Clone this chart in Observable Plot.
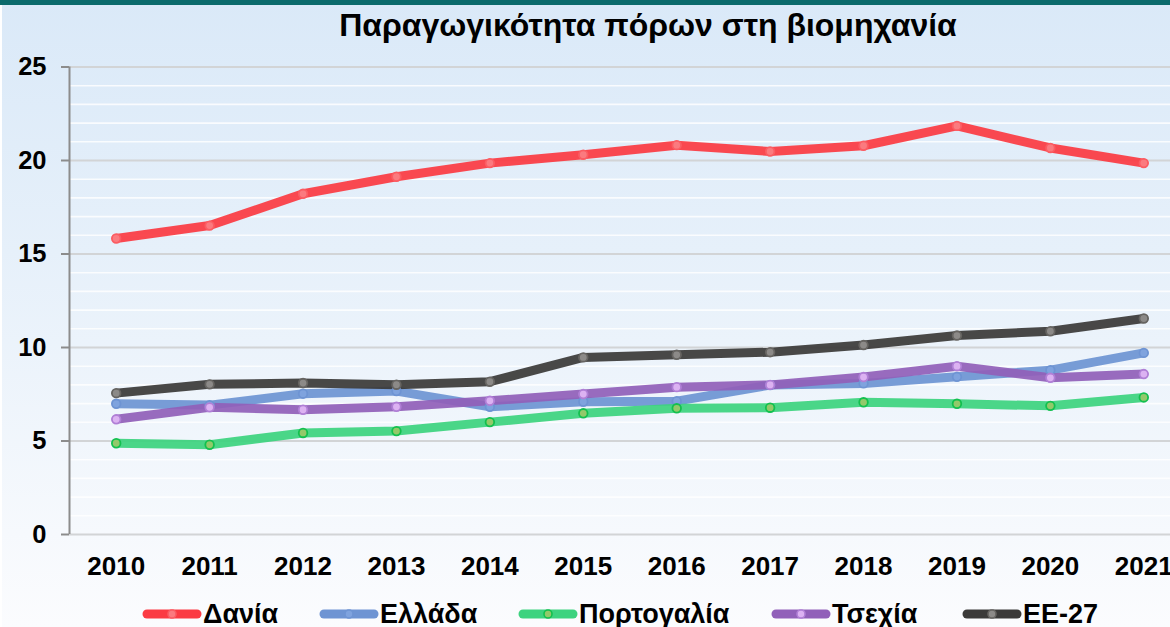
<!DOCTYPE html>
<html>
<head>
<meta charset="utf-8">
<script src="https://cdn.jsdelivr.net/npm/d3@7"></script>
<script src="https://cdn.jsdelivr.net/npm/@observablehq/plot@0.6"></script>
<style>
  html, body { margin: 0; padding: 0; }
  body { width: 1170px; height: 627px; overflow: hidden; background: #fff; font-family: "Liberation Sans", Arial, sans-serif; position: relative; }
  #wrap { position: absolute; left: 2px; top: 0; width: 1168px; height: 627px;
          background: linear-gradient(to bottom, #dae9f8 0%, #e6f0fa 40%, #f6f9fd 85%, #fbfcfe 100%); }
  #topbar { position: absolute; left: 0; top: 0; width: 1170px; height: 5px; background: #0b6a6c; }
  #title { position: absolute; left: 0; width: 1296px; top: 7px; text-align: center; font-weight: bold; font-size: 32px; line-height: normal; color: #000; white-space: nowrap; }
  #chart { position: absolute; left: 0; top: 0; }
  #legend { position: absolute; left: 0; top: 0; width: 1170px; height: 627px; pointer-events: none; }
  .sw { position: absolute; top: 606px; }
  .lt { position: absolute; top: 601px; font-weight: bold; font-size: 27px; line-height: 27px; color: #000; white-space: nowrap; }
</style>
</head>
<body>
<div id="wrap"></div>
<div id="topbar"></div>
<div id="chart"></div>
<div id="title">Παραγωγικότητα πόρων στη βιομηχανία</div>
<div id="legend"></div>
<script>
const years = [2010, 2011, 2012, 2013, 2014, 2015, 2016, 2017, 2018, 2019, 2020, 2021];
const seriesNames = ["Δανία", "Ελλάδα", "Πορτογαλία", "Τσεχία", "ΕΕ-27"];
const dania      = [15.83, 16.52, 18.22, 19.13, 19.86, 20.31, 20.82, 20.48, 20.79, 21.85, 20.67, 19.86];
const ellada     = [6.99, 6.92, 7.53, 7.67, 6.83, 7.10, 7.13, 7.99, 8.08, 8.43, 8.79, 9.71];
const portogalia = [4.88, 4.80, 5.43, 5.53, 6.01, 6.48, 6.75, 6.78, 7.07, 6.99, 6.88, 7.33];
const tsexia     = [6.16, 6.80, 6.67, 6.83, 7.15, 7.51, 7.88, 8.00, 8.42, 9.00, 8.38, 8.58];
const ee27       = [7.56, 8.03, 8.10, 8.01, 8.17, 9.47, 9.61, 9.75, 10.13, 10.64, 10.87, 11.55];
const yTicks = [0, 5, 10, 15, 20, 25];
const yMinor = [1,2,3,4,6,7,8,9,11,12,13,14,16,17,18,19,21,22,23,24];

const lineColors   = ["#fb3b43", "#6e94d3", "#3dd37f", "#9160b9", "#3b3a39"];
const markerFill   = ["#fb7a7f", "#7fa3de", "#93c96a", "#dcb2f2", "#8c8a88"];
const markerStroke = ["#fb5c62", "#6e94d3", "#13c04f", "#b07fd6", "#666461"];
const legendLeft   = [142, 319, 518, 771, 962];

const allValues = [dania, ellada, portogalia, tsexia, ee27];
const data = [];
seriesNames.forEach((name, i) => {
  years.forEach((yr, j) => data.push({series: name, idx: i, year: yr, value: allValues[i][j]}));
});

const plot = Plot.plot({
  width: 1170,
  height: 590,
  marginLeft: 69,
  marginRight: 0,
  marginTop: 66.5,
  marginBottom: 56,
  style: {background: "transparent", fontFamily: "Liberation Sans, Arial, sans-serif", overflow: "visible"},
  x: {domain: [2009.5, 2021.5], range: [69, 1190]},
  y: {domain: [0, 25]},
  marks: [
    Plot.ruleY(yMinor, {stroke: "#ffffff", strokeWidth: 1.6, strokeOpacity: 0.8}),
    Plot.ruleY(yTicks, {stroke: "#d2d4d6", strokeWidth: 2}),
    Plot.ruleX([2009.5], {y1: 0, y2: 25, stroke: "#8c8c8c", strokeWidth: 2}),
    Plot.axisY({ticks: yTicks, tickSize: 8, tickPadding: 15, stroke: "#8c8c8c", strokeWidth: 2,
      fontSize: 25.5, fontWeight: "bold", fill: "#000", label: null, tickFormat: d => String(d)}),
    Plot.axisX({ticks: years, tickSize: 0, tickPadding: 22, fontSize: 26, fontWeight: "bold", fill: "#000",
      label: null, tickFormat: d => String(d)}),
    ...seriesNames.map((name, i) =>
      Plot.line(data.filter(d => d.idx === i), {x: "year", y: "value", stroke: lineColors[i],
        strokeWidth: 9, strokeOpacity: 0.93, strokeLinecap: "round", strokeLinejoin: "round"})),
    ...seriesNames.map((name, i) =>
      Plot.dot(data.filter(d => d.idx === i), {x: "year", y: "value", r: 4.3, fill: markerFill[i],
        stroke: markerStroke[i], strokeWidth: 1.8}))
  ]
});
document.getElementById("chart").appendChild(plot);

const legend = document.getElementById("legend");
seriesNames.forEach((name, i) => {
  const sw = document.createElement("div");
  sw.className = "sw";
  sw.style.left = legendLeft[i] + "px";
  sw.innerHTML = `<svg width="62" height="16" style="display:block"><line x1="5" y1="8" x2="55" y2="8" stroke="${lineColors[i]}" stroke-width="9" stroke-linecap="round"/><circle cx="30" cy="8" r="4" fill="${markerFill[i]}" stroke="${markerStroke[i]}" stroke-width="1.6"/></svg>`;
  legend.appendChild(sw);
  const t = document.createElement("div");
  t.className = "lt";
  t.style.left = (legendLeft[i] + 61) + "px";
  t.textContent = name;
  legend.appendChild(t);
});
</script>
</body>
</html>
